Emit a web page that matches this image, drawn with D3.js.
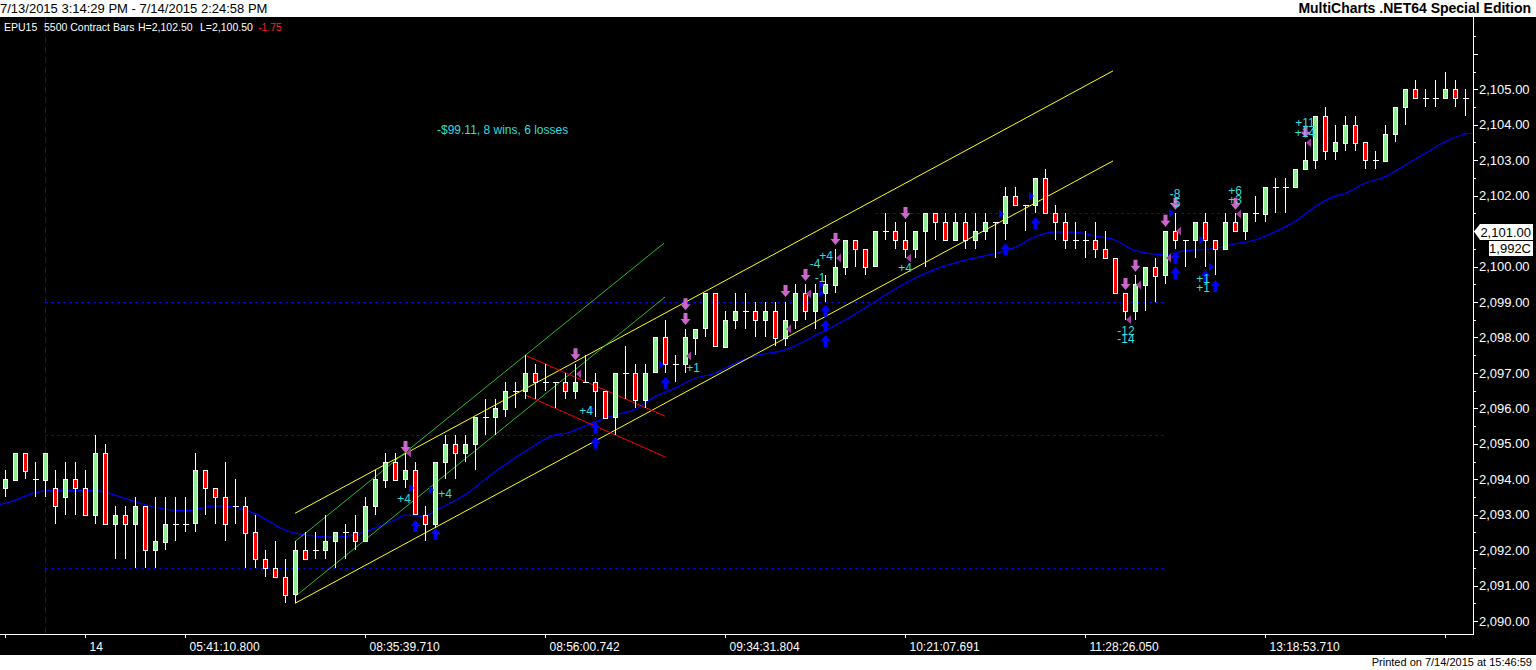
<html>
<head>
<title>EPU15 5500 Contract Bars</title>
<script src="https://d3js.org/d3.v7.min.js"></script>
<style>
body { margin: 0; background: #ffffff; }
text { font-family: "Liberation Sans", Arial, sans-serif; }
</style>
</head>
<body>
<script>

// ---- bar data, one value per 5500 contract bar ----
var opens = [2093.75,2094,2094.75,2094,2094,2093.75,2093.5,2094,2093.75,2093,
 2094.75,2092.75,2093,2092.75,2093.25,2092,2092.25,2092.75,2092.75,2092.75,
 2094.25,2093.75,2093.5,2093.25,2093.25,2092.5,2091.75,2091.5,2091.25,2090.75,
 2092,2092,2092,2092.25,2092.5,2092.5,2092.25,2093.25,2094,2094.5,
 2094,2094.25,2093,2092.75,2094.5,2095,2094.75,2095,2095.75,2095.75,
 2096,2096.5,2096.5,2097,2096.75,2096.75,2096.75,2096.5,2096.75,2096.75,
 2096.5,2095.75,2097,2097,2096.25,2097,2098,2097.25,2097.25,2098,
 2098.25,2099.25,2097.75,2098.5,2098.75,2098.75,2098.5,2098.75,2098,2098.5,
 2099.25,2098.75,2099.25,2099.5,2100,2100.75,2100.5,2100,2101,2101,
 2100.75,2100.5,2101,2101.5,2101.25,2100.75,2101.25,2100.75,2101,2101.25,
 2101.25,2102,2101.75,2101.75,2102.5,2101.5,2101.25,2100.75,2100.75,2100.75,
 2100.5,2100.25,2099.25,2098.75,2099.5,2100,2099.75,2101,2100.75,2100.75,
 2101.25,2100.75,2100.5,2101.25,2101,2101.5,2101.5,2102.25,2102.25,2102.25,
 2102.75,2103,2104.25,2103.25,2103.5,2104,2103.5,2103,2103,2103.75,
 2104.5,2105,2104.75,2104.75,2104.75,2105,2104.75];
var highs = [2094.25,2094.75,2094.75,2094.5,2094.75,2094.25,2094.5,2094.5,2094.25,2095.25,
 2095,2093.25,2093.25,2093.5,2093.25,2093.5,2093.5,2093.5,2093.5,2094.75,
 2094.25,2093.75,2094.5,2094,2093.5,2093,2092,2092.25,2091.75,2092.25,
 2092.5,2092.5,2093,2092.5,2092.75,2093,2093.5,2094.25,2094.75,2094.75,
 2094.75,2094.5,2093.25,2094.5,2095.25,2095.25,2095.25,2095.75,2096.25,2096.25,
 2096.75,2096.75,2097.5,2097.25,2097.25,2096.75,2097,2097.25,2097.5,2097,
 2096.5,2097,2097.75,2097.25,2097.25,2098,2098.5,2097.5,2098.25,2098.25,
 2099.25,2099.25,2098.75,2099.25,2099.25,2099,2099,2099,2099,2099.5,
 2099.5,2099.5,2099.75,2100.5,2100.75,2100.75,2100.5,2101,2101.5,2101.25,
 2101.25,2101,2101.5,2101.5,2101.5,2101.5,2101.5,2101.5,2101.5,2101.25,
 2102.25,2102.25,2101.75,2102.5,2102.75,2101.75,2101.5,2101.25,2101,2101.25,
 2101,2100.25,2099.25,2099.75,2100,2100.25,2101,2101.5,2100.75,2101.25,
 2101.5,2100.75,2101.5,2101.5,2101.5,2102,2102.25,2102.5,2102.5,2102.75,
 2103.5,2104.25,2104.5,2104,2104.25,2104.25,2103.5,2103.25,2104,2104.5,
 2105,2105.25,2105,2105.25,2105.5,2105.25,2105];
var lows = [2093.5,2094,2094,2093.5,2093.5,2092.75,2093,2093,2093,2092.75,
 2092.75,2091.75,2091.75,2091.5,2091.5,2091.5,2092,2092.25,2092.5,2092.5,
 2093,2092.75,2092.25,2092.75,2091.5,2091.5,2091.25,2091.25,2090.5,2090.5,
 2091.75,2091.75,2091.75,2091.5,2091.75,2092,2092.25,2093,2093.75,2094,
 2093.75,2093,2092.25,2092.5,2094,2094,2094.5,2094.25,2095.25,2095.25,
 2095.75,2096,2096.25,2096.25,2096.5,2096,2096.25,2096.25,2096.75,2095.75,
 2095.75,2095.25,2096.25,2096,2096,2097,2097,2096.75,2097,2097.5,
 2098,2097.75,2097.75,2098.25,2098.25,2098,2098,2097.75,2097.75,2098.25,
 2098.5,2098.25,2099,2099.25,2099.75,2100,2099.75,2100,2100.75,2100.5,
 2100.25,2100.25,2100,2100.75,2100.75,2100.75,2100.5,2100.5,2100.75,2100.25,
 2100.75,2101.75,2101,2101.5,2101.5,2100.75,2100.5,2100.5,2100.25,2100.25,
 2100.25,2099.25,2098.5,2098.5,2098.75,2099,2099.5,2100.5,2100,2100.25,
 2100,2099.75,2100.5,2101,2100.75,2101.25,2101.25,2101.5,2101.5,2102.25,
 2102.75,2102.75,2103,2103,2103.25,2103.25,2102.75,2102.75,2103,2103.5,
 2104,2104.75,2104.5,2104.5,2104.75,2104.5,2104.25];
var closes = [2094,2094.75,2094.25,2094,2094.75,2093.25,2094,2093.75,2093,2094.75,
 2092.75,2093,2092.75,2093.25,2092,2092.25,2092.75,2092.75,2092.75,2094.25,
 2093.75,2093.5,2092.75,2093.25,2092.5,2091.75,2091.5,2091.25,2090.75,2092,
 2091.75,2092,2092.25,2092.5,2092.5,2092.25,2093.25,2094,2094.5,2094,
 2094.25,2093,2092.75,2094.5,2095,2094.75,2095,2095.75,2095.75,2096,
 2096.5,2096.5,2097,2096.75,2096.75,2096.75,2096.5,2096.75,2096.75,2096.5,
 2095.75,2097,2097,2096.25,2097,2098,2097.25,2097.25,2098,2098.25,
 2099.25,2097.75,2098.5,2098.75,2098.75,2098.5,2098.75,2098,2098.5,2099.25,
 2098.75,2099.25,2099.5,2100,2100.75,2100.5,2100,2101,2101,2100.75,
 2100.5,2101,2101.5,2101.25,2100.75,2101.25,2100.75,2101,2101.25,2101.25,
 2102,2101.75,2101.75,2102.5,2101.5,2101.25,2100.75,2100.75,2100.75,2100.5,
 2100.25,2099.25,2098.75,2099.5,2100,2099.75,2101,2100.75,2100.75,2101.25,
 2100.75,2100.5,2101.25,2101,2101.5,2101.5,2102.25,2102.25,2102.25,2102.75,
 2103,2104.25,2103.25,2103.5,2104,2103.5,2103,2103,2103.75,2104.5,
 2105,2104.75,2104.75,2104.75,2105,2104.75,2104.75];

// moving average as [bar, price]
var maPoints = [[-0.5,2093.29],[0,2093.32],[4,2093.67],[9,2093.68],[12,2093.46],[15,2093.21],[18,2093.11],
 [21,2093.25],[23,2093.21],[25,2093.03],[28,2092.57],[30,2092.43],[33,2092.36],[35,2092.43],
 [37,2092.62],[39,2092.85],[40,2092.99],[42,2092.96],[43,2093.11],[46,2093.56],[49,2094.21],
 [52,2094.78],[55,2095.25],[56,2095.29],[59,2095.62],[61,2095.81],[63,2095.97],[65,2096.33],
 [67,2096.57],[69,2096.85],[71,2096.99],[73,2097.27],[75,2097.48],[78,2097.65],[81,2098.05],
 [84,2098.49],[87,2099.01],[90,2099.53],[93,2099.92],[96,2100.18],[99,2100.37],[101,2100.54],
 [103,2100.84],[105,2100.98],[107,2100.97],[109,2100.86],[111,2100.75],[113,2100.45],
 [116,2100.34],[118,2100.45],[121,2100.51],[123,2100.64],[125,2100.75],[127,2100.98],
 [129,2101.27],[131,2101.69],[133,2101.98],[134,2102.06],[136,2102.35],[138,2102.53],
 [140,2102.86],[142,2103.19],[144,2103.52],[146,2103.74],[146.7,2103.76]];

// drawn trend lines [bar0, price0, bar1, price1, colour]
var trendLines = [
  [29, 2093.04, 110.8, 2105.52, "#ffff00"],
  [29, 2090.5, 110.8, 2102.98, "#ffff00"],
  [29, 2092.24, 65.9, 2100.66, "#2fb82f"],
  [29, 2090.69, 66, 2099.14, "#2fb82f"],
  [52, 2097.5, 66, 2095.78, "#ff0000"],
  [52, 2096.38, 66, 2094.63, "#ff0000"]
];

// dotted levels [price, fromBar, toBar]
var levels = [[2099, 4, 116], [2095.25, 4, 116], [2091.5, 4, 116], [2101.5, 87, 124]];

// strategy marks [bar, price]
var sellArrows = [[40,2094.74],[57,2097.36],[68,2098.77],[68,2098.35],[78,2099.14],[80,2099.59],
 [83,2100.61],[90,2101.34],[112,2099.34],[113,2099.85],[116,2101.12],[117,2101.6],[123,2101.6],[130,2103.63]];
var buyArrows = [[41,2092.85],[43,2092.63],[59,2095.62],[59,2095.2],[66,2096.89],[82,2098.92],
 [82,2098.5],[82,2098.07],[100,2100.66],[103,2101.4],[117,2100.41],[117,2099.99],[120,2099.9],[121,2099.62]];
var sellExits = [[40,2094.74],[57,2096.97],[68,2097.48],[78,2098.24],[80,2099.23],[83,2100.24],
 [90,2100.24],[112,2098.5],[113,2099.48],[116,2100.24],[117,2101],[123,2101.48],[130,2103.49]];
var buyExits = [[41,2093.75],[43,2093.7],[59,2095.98],[66,2097.22],[82,2099.48],[82,2099.25],
 [100,2101.48],[103,2101.99],[117,2101.51],[120,2100.75],[121,2099.99]];
var tradeLabels = [[39.9,2093.33,"+4"],[44,2093.47,"+4"],[58.1,2095.81,"+4"],[68.8,2097.03,"+1"],
 [81,2099.96,"-4"],[81.5,2099.56,"-1"],[82.1,2100.18,"+4"],[90,2099.85,"+4"],
 [117,2101.93,"-8"],[117,2101.67,"-5"],[112.1,2098.07,"-12"],[112.1,2097.84,"-14"],
 [119.8,2099.54,"+1"],[119.8,2099.29,"+1"],[123,2102.02,"+6"],[123,2101.76,"+3"],
 [130,2103.94,"+11"],[130,2103.65,"+14"]];

// axis labels
var timeTicks = [0, 8, 18, 36, 54, 72, 90, 108, 126, 144];
var timeLabels = ["", "14", "05:41:10.800", "08:35:39.710", "08:56:00.742", "09:34:31.804",
 "10:21:07.691", "11:28:26.050", "13:18:53.710", ""];
var priceTicks = d3.range(2090, 2106, 1);

var width = 1536, height = 670;
var axisX = 1473, axisY = 634;

var svg = d3.select("body").append("svg")
    .attr("width", width)
    .attr("height", height)
    .style("display", "block");

svg.append("rect").attr("width", width).attr("height", height).attr("fill", "#ffffff");
svg.append("rect").attr("y", 17).attr("width", width).attr("height", 638).attr("fill", "#000000");

var x = d3.scaleLinear().domain([0, 146]).range([5, 1465]);
var y = d3.scaleLinear().domain([2090, 2105]).range([621.05, 89.3]);

svg.append("clipPath").attr("id", "plot")
  .append("rect").attr("x", 0).attr("y", 17).attr("width", axisX).attr("height", axisY - 17);

var plot = svg.append("g").attr("clip-path", "url(#plot)");

// day separator
plot.append("line")
    .attr("x1", x(4) + 0.5).attr("x2", x(4) + 0.5)
    .attr("y1", 17).attr("y2", axisY)
    .attr("stroke", "#0000ff").attr("stroke-dasharray", "6,4");

// dotted levels
plot.selectAll(".level")
    .data(levels)
  .enter().append("line")
    .attr("x1", function(d) { return x(d[1]); })
    .attr("x2", function(d) { return x(d[2]); })
    .attr("y1", function(d) { return Math.round(y(d[0])) + 0.5; })
    .attr("y2", function(d) { return Math.round(y(d[0])) + 0.5; })
    .attr("stroke", "#0000ff").attr("stroke-dasharray", "3,3");

// moving average
plot.append("path")
    .datum(maPoints)
    .attr("fill", "none")
    .attr("stroke", "#0000ff")
    .attr("stroke-width", 1.2)
    .attr("d", d3.line()
        .x(function(d) { return x(d[0]); })
        .y(function(d) { return y(d[1]); })
        .curve(d3.curveMonotoneX));

// trend lines
plot.selectAll(".trend")
    .data(trendLines)
  .enter().append("line")
    .attr("x1", function(d) { return x(d[0]); })
    .attr("y1", function(d) { return y(d[1]); })
    .attr("x2", function(d) { return x(d[2]); })
    .attr("y2", function(d) { return y(d[3]); })
    .attr("stroke", function(d) { return d[4]; })
    .attr("stroke-width", 1);

// candles
var bars = opens.map(function(o, i) {
    return { i: i, o: o, h: highs[i], l: lows[i], c: closes[i] };
});

var cx = function(d) { return Math.round(x(d.i)) + 0.5; };

plot.selectAll(".wick")
    .data(bars)
  .enter().append("line")
    .attr("x1", cx).attr("x2", cx)
    .attr("y1", function(d) { return Math.round(y(d.h)); })
    .attr("y2", function(d) { return Math.round(y(d.l)); })
    .attr("stroke", "#ffffff")
    .attr("shape-rendering", "crispEdges");

plot.selectAll(".body")
    .data(bars.filter(function(d) { return d.o != d.c; }))
  .enter().append("rect")
    .attr("x", function(d) { return cx(d) - 2; })
    .attr("y", function(d) { return Math.round(y(Math.max(d.o, d.c))) + 0.5; })
    .attr("width", 4)
    .attr("height", function(d) { return Math.round(Math.abs(y(d.o) - y(d.c))); })
    .attr("fill", function(d) { return d.c > d.o ? "#90ee90" : "#ff0000"; })
    .attr("stroke", "#ffffff")
    .attr("shape-rendering", "crispEdges");

plot.selectAll(".doji")
    .data(bars.filter(function(d) { return d.o == d.c; }))
  .enter().append("line")
    .attr("x1", function(d) { return cx(d) - 3; })
    .attr("x2", function(d) { return cx(d) + 3; })
    .attr("y1", function(d) { return Math.round(y(d.o)) + 0.5; })
    .attr("y2", function(d) { return Math.round(y(d.o)) + 0.5; })
    .attr("stroke", "#ffffff")
    .attr("shape-rendering", "crispEdges");

// strategy marks
plot.selectAll(".sell")
    .data(sellArrows)
  .enter().append("path")
    .attr("d", "M0,0L-5,-6L-2,-6L-2,-12L2,-12L2,-6L5,-6Z")
    .attr("transform", function(d) { return "translate(" + (x(d[0]) + 0.5) + "," + y(d[1]) + ")"; })
    .attr("fill", "#cc66cc");

plot.selectAll(".buy")
    .data(buyArrows)
  .enter().append("path")
    .attr("d", "M0,0L-5,6L-2,6L-2,12L2,12L2,6L5,6Z")
    .attr("transform", function(d) { return "translate(" + (x(d[0]) + 0.5) + "," + y(d[1]) + ")"; })
    .attr("fill", "#0000ff");

plot.selectAll(".sellx")
    .data(sellExits)
  .enter().append("path")
    .attr("d", "M0,0L5,-4.5L5,4.5Z")
    .attr("transform", function(d) { return "translate(" + (x(d[0]) + 1) + "," + y(d[1]) + ")"; })
    .attr("fill", "#a040a0");

plot.selectAll(".buyx")
    .data(buyExits)
  .enter().append("path")
    .attr("d", "M0,0L-5,-4.5L-5,4.5Z")
    .attr("transform", function(d) { return "translate(" + (x(d[0]) - 1) + "," + y(d[1]) + ")"; })
    .attr("fill", "#0000ff");

plot.selectAll(".tlabel")
    .data(tradeLabels)
  .enter().append("text")
    .attr("x", function(d) { return x(d[0]); })
    .attr("y", function(d) { return y(d[1]); })
    .attr("text-anchor", "middle")
    .attr("font-size", "12px")
    .attr("fill", "#2fdede")
    .text(function(d) { return d[2]; });

svg.append("text")
    .attr("x", 437).attr("y", 134)
    .attr("font-size", "12px")
    .attr("fill", "#2fdede")
    .text("-$99.11, 8 wins, 6 losses");

// price axis
svg.append("line")
    .attr("x1", axisX + 0.5).attr("x2", axisX + 0.5)
    .attr("y1", 17).attr("y2", axisY + 1)
    .attr("stroke", "#ffffff");

svg.selectAll(".minor")
    .data(d3.range(2089.5, 2107, 0.5).filter(function(v) { return y(v) > 20 && y(v) < axisY; }))
  .enter().append("line")
    .attr("x1", axisX).attr("x2", function(d) { return axisX + (d % 1 == 0 ? 5 : 3); })
    .attr("y1", function(d) { return Math.round(y(d)) + 0.5; })
    .attr("y2", function(d) { return Math.round(y(d)) + 0.5; })
    .attr("stroke", "#ffffff");

var yAxis = svg.append("g")
    .attr("transform", "translate(" + axisX + ",0)")
    .call(d3.axisRight(y).tickValues(priceTicks).tickSize(0).tickPadding(6)
        .tickFormat(d3.format(",.2f")));
yAxis.select(".domain").remove();
yAxis.selectAll("text")
    .attr("fill", "#ffffff")
    .attr("font-size", "13px")
    .attr("font-family", "Liberation Sans, Arial, sans-serif");

// last price box
svg.append("path")
    .attr("d", "M" + (axisX + 1) + "," + (y(2101) + 0.5) + "L1480,224L1533,224L1533,240L1480,240Z")
    .attr("fill", "#ffffff");
svg.append("text")
    .attr("x", 1531).attr("y", 237)
    .attr("text-anchor", "end")
    .attr("font-size", "13px")
    .attr("fill", "#000000")
    .text("2,101.00");
svg.append("rect")
    .attr("x", 1489).attr("y", 241).attr("width", 44).attr("height", 15)
    .attr("fill", "#ffffff");
svg.append("text")
    .attr("x", 1531).attr("y", 253)
    .attr("text-anchor", "end")
    .attr("font-size", "13px")
    .attr("fill", "#000000")
    .text("1,992C");

// time axis
var xAxis = svg.append("g")
    .attr("transform", "translate(0," + axisY + ")")
    .call(d3.axisBottom(x).tickValues(timeTicks).tickSize(4).tickPadding(4)
        .tickFormat(function(d, i) { return timeLabels[i]; }));
xAxis.select(".domain").remove();
xAxis.selectAll("line").attr("stroke", "#ffffff");
xAxis.selectAll("text")
    .attr("fill", "#ffffff")
    .attr("font-size", "12px")
    .attr("font-family", "Liberation Sans, Arial, sans-serif")
    .attr("text-anchor", "start")
    .attr("dx", 4);
svg.append("line")
    .attr("x1", 0).attr("x2", axisX + 1)
    .attr("y1", axisY + 0.5).attr("y2", axisY + 0.5)
    .attr("stroke", "#ffffff");

// header / footer texts
svg.append("text")
    .attr("x", 0).attr("y", 13)
    .attr("font-size", "13px")
    .attr("fill", "#000000")
    .text("7/13/2015 3:14:29 PM - 7/14/2015 2:24:58 PM");
svg.append("text")
    .attr("x", 1531).attr("y", 13)
    .attr("text-anchor", "end")
    .attr("font-size", "14px")
    .attr("font-weight", "bold")
    .attr("fill", "#000000")
    .text("MultiCharts .NET64 Special Edition");

var info = svg.append("text")
    .attr("y", 31)
    .attr("font-size", "10.5px")
    .attr("fill", "#ffffff");
info.append("tspan").attr("x", 4).text("EPU15");
info.append("tspan").attr("x", 44).text("5500 Contract Bars");
info.append("tspan").attr("x", 138).text("H=2,102.50");
info.append("tspan").attr("x", 200).text("L=2,100.50");
info.append("tspan").attr("x", 258).attr("fill", "#ff2020").text("-1.75");

svg.append("text")
    .attr("x", 1532).attr("y", 666)
    .attr("text-anchor", "end")
    .attr("font-size", "11px")
    .attr("fill", "#000000")
    .text("Printed on 7/14/2015 at 15:46:59");

</script>
</body>
</html>
